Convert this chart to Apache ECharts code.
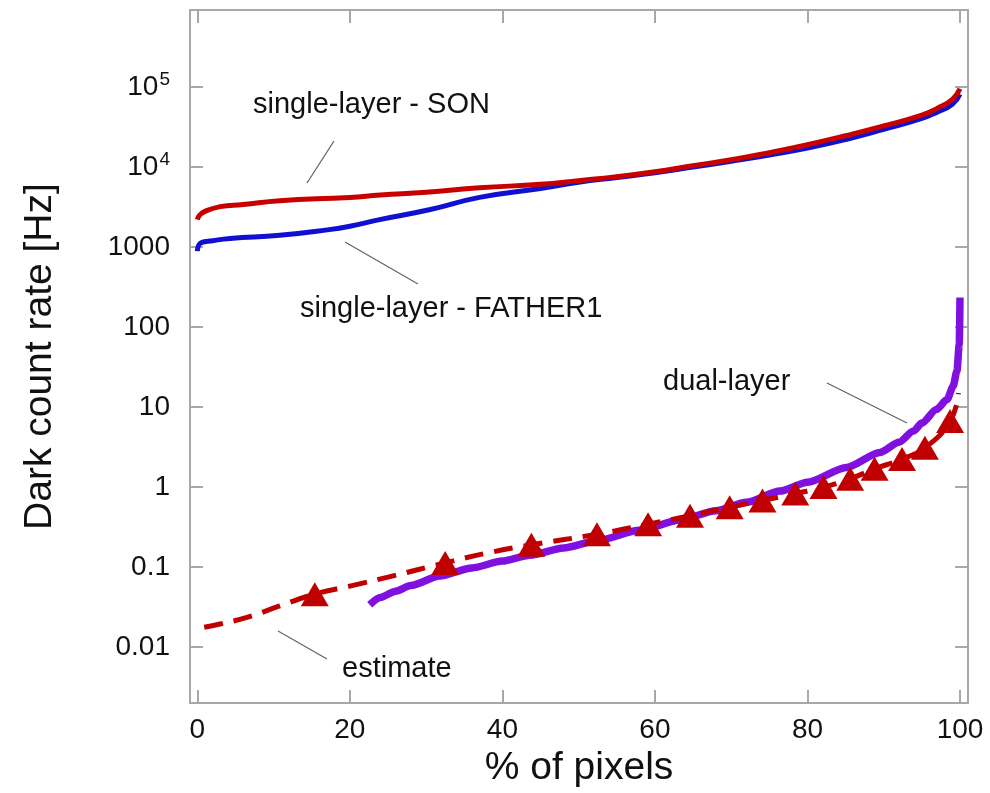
<!DOCTYPE html>
<html>
<head>
<meta charset="utf-8">
<script src="https://cdn.jsdelivr.net/npm/echarts@6/dist/echarts.min.js"></script>
<style>
html,body{margin:0;padding:0;background:#fff;}
#c{width:990px;height:793px;}
</style>
</head>
<body>
<div id="c"></div>
<script>
// ---- data (percent of pixels, dark count rate in Hz) ----
const xTicks = [0, 20, 40, 60, 80, 100];
const yTicks = [0.01, 0.1, 1, 10, 100, 1000, 1e4, 1e5];
const yTickLabels = ['0.01', '0.1', '1', '10', '100', '1000', '10{s|4}', '10{s|5}'];

const sonPct = [0, 0.3, 1, 3, 6, 10.8, 20, 24, 30, 37, 45, 50, 55, 60, 65, 70, 75, 80, 85, 90, 95, 97, 99, 100];
const sonVal = [2200, 2500, 2790, 3200, 3400, 3800, 4170, 4480, 4830, 5500, 6070, 6760, 7580, 8710, 10400, 12300, 15100, 19000, 24600, 32600, 44600, 54000, 70000, 95000];

const fatherPct = [0, 0.5, 2, 4.3, 10.8, 17.3, 20, 23.9, 30.4, 37, 45, 50, 55, 60, 65, 70, 75, 80, 85, 90, 95, 97, 99, 100];
const fatherVal = [890, 1130, 1200, 1280, 1400, 1650, 1820, 2200, 2920, 4170, 5400, 6460, 7400, 8500, 10000, 11800, 14100, 17200, 22000, 29500, 40500, 48500, 61000, 81000];

const dualPct = [22.6, 24, 26, 28, 31.8, 36, 40, 43.6, 48, 52.4, 58, 63.3, 68, 72, 76.4, 80, 85.1, 89.5, 92, 93.9, 95, 96.9, 98.3, 99.1, 99.6, 99.9, 100];
const dualVal = [0.0339, 0.0417, 0.0501, 0.0589, 0.0776, 0.0977, 0.119, 0.141, 0.174, 0.214, 0.288, 0.389, 0.507, 0.646, 0.891, 1.15, 1.76, 2.71, 3.63, 5.01, 6.31, 9.33, 12.4, 18.2, 28.2, 60.3, 234];

const estPct = [0.9, 3, 6.5, 10.8, 15.4, 20, 25, 32.5, 38, 43.8, 52.4, 59.1, 64.6, 69.8, 74.1, 78.4, 82.1, 85.6, 88.8, 92.4, 95.4, 98.7, 99.8];
const estVal = [0.0177, 0.0195, 0.0235, 0.0327, 0.046, 0.058, 0.075, 0.113, 0.15, 0.19, 0.258, 0.343, 0.44, 0.56, 0.68, 0.83, 1.0, 1.27, 1.69, 2.24, 3.1, 6.7, 15];

const markPct = [15.4, 32.5, 43.8, 52.4, 59.1, 64.6, 69.8, 74.1, 78.4, 82.1, 85.6, 88.8, 92.4, 95.4, 98.7];
const markVal = [0.046, 0.113, 0.19, 0.258, 0.343, 0.44, 0.56, 0.68, 0.83, 1.0, 1.27, 1.69, 2.24, 3.1, 6.7];

const labels = {
  son: 'single-layer - SON',
  father: 'single-layer - FATHER1',
  dual: 'dual-layer',
  est: 'estimate'
};

function pairs(xs, ys) { return xs.map((x, i) => [x, ys[i]]); }

const FONT = '"Liberation Sans", Arial, Helvetica, sans-serif';
const AX = '#a8a8a8';

const chart = echarts.init(document.getElementById('c'), null, {renderer: 'canvas'});

function yLabel(v) {
  for (let i = 0; i < yTicks.length; i++) {
    if (Math.abs(Math.log10(v) - Math.log10(yTicks[i])) < 1e-6) return yTickLabels[i];
  }
  return '';
}

const commonTick = {show: true, inside: true, length: 13, lineStyle: {color: AX, width: 2}};
const axLine = {show: true, onZero: false, lineStyle: {color: AX, width: 2}};

const option = {
  animation: false,
  backgroundColor: '#fff',
  grid: {left: 190, right: 22, top: 10, bottom: 83, containLabel: false},
  xAxis: [{
    type: 'value', min: -0.96, max: 101.05,
    name: '% of pixels', nameLocation: 'middle', nameGap: 40,
    nameTextStyle: {fontSize: 39, color: '#111', fontFamily: FONT},
    axisLine: axLine,
    axisTick: Object.assign({customValues: xTicks}, commonTick),
    axisLabel: {customValues: xTicks, fontSize: 28, color: '#111', fontFamily: FONT, margin: 13},
    splitLine: {show: false}
  }, {
    type: 'value', position: 'top', min: -0.96, max: 101.05,
    axisLine: axLine,
    axisTick: Object.assign({customValues: xTicks}, commonTick),
    axisLabel: {show: false},
    splitLine: {show: false}
  }],
  yAxis: [{
    type: 'log', logBase: 10, min: 0.002, max: 916000,
    name: 'Dark count rate [Hz]', nameLocation: 'middle', nameGap: 130, nameRotate: 90,
    nameTextStyle: {fontSize: 39, color: '#111', fontFamily: FONT},
    axisLine: axLine,
    axisTick: Object.assign({customValues: yTicks}, commonTick),
    axisLabel: {
      customValues: yTicks, fontSize: 28, color: '#111', fontFamily: FONT, margin: 20,
      formatter: yLabel,
      rich: {s: {fontSize: 19, color: '#111', fontFamily: FONT, padding: [0, 0, 14, 1]}}
    },
    splitLine: {show: false}
  }, {
    type: 'log', logBase: 10, position: 'right', min: 0.002, max: 916000,
    axisLine: axLine,
    axisTick: Object.assign({customValues: yTicks}, commonTick),
    axisLabel: {show: false},
    splitLine: {show: false}
  }],
  series: [
    {name: 'father', type: 'line', data: pairs(fatherPct, fatherVal), smooth: 0.5,
      showSymbol: false, lineStyle: {color: '#1010d0', width: 5}, z: 2},
    {name: 'son', type: 'line', data: pairs(sonPct, sonVal), smooth: 0.5,
      showSymbol: false, lineStyle: {color: '#c80000', width: 5}, z: 3},
    {name: 'dual', type: 'line', data: pairs(dualPct, dualVal), smooth: 0.25, smoothMonotone: 'x',
      showSymbol: false, lineStyle: {color: '#8010e0', width: 7.5}, z: 2},
    {name: 'estimate', type: 'line', data: pairs(estPct, estVal), smooth: 0.5,
      showSymbol: false, lineStyle: {color: '#c00000', width: 5, type: [19, 11]}, z: 3},
    {name: 'estimate markers', type: 'scatter', data: pairs(markPct, markVal),
      symbol: 'triangle', symbolSize: [28, 24], itemStyle: {color: '#c00000', opacity: 1}, z: 4}
  ]
};
chart.setOption(option);

// annotation texts and pointer lines
const annoStyle = {fontSize: 29, fill: '#111', fontFamily: FONT};
const pointer = {stroke: '#666', lineWidth: 1.3};
chart.setOption({
  graphic: [
    {type: 'text', x: 253, y: 105, style: Object.assign({text: labels.son, verticalAlign: 'middle'}, annoStyle)},
    {type: 'line', shape: {x1: 307, y1: 183, x2: 334, y2: 141}, style: pointer},
    {type: 'text', x: 300, y: 309, style: Object.assign({text: labels.father, verticalAlign: 'middle'}, annoStyle)},
    {type: 'line', shape: {x1: 345, y1: 242, x2: 418, y2: 284}, style: pointer},
    {type: 'text', x: 663, y: 382, style: Object.assign({text: labels.dual, verticalAlign: 'middle'}, annoStyle)},
    {type: 'line', shape: {x1: 827, y1: 383, x2: 907, y2: 423}, style: pointer},
    {type: 'text', x: 342, y: 669, style: Object.assign({text: labels.est, verticalAlign: 'middle'}, annoStyle)},
    {type: 'line', shape: {x1: 278, y1: 631, x2: 327, y2: 659}, style: pointer}
  ]
});
</script>
</body>
</html>
